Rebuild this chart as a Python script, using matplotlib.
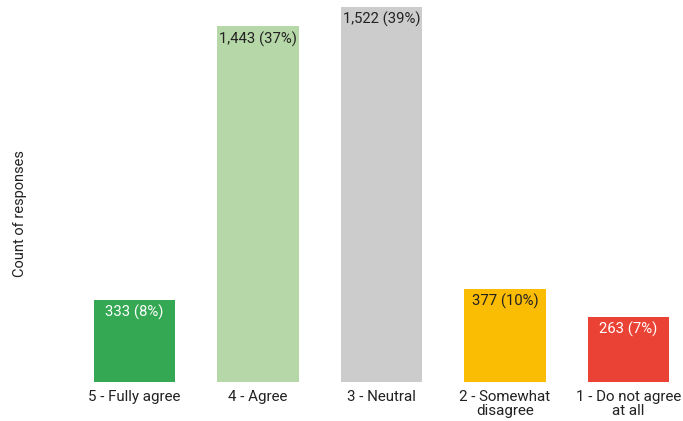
import matplotlib
matplotlib.use("Agg")
import matplotlib.pyplot as plt

categories = ["5 - Fully agree", "4 - Agree", "3 - Neutral", "2 - Somewhat\ndisagree", "1 - Do not agree\nat all"]
counts = [333, 1443, 1522, 377, 263]
labels = ["333 (8%)", "1,443 (37%)", "1,522 (39%)", "377 (10%)", "263 (7%)"]
colors = ["#34a853", "#b6d7a8", "#cccccc", "#fbbc04", "#ea4335"]
label_colors = ["white", "#222222", "#222222", "#222222", "white"]

plt.rcParams['font.family'] = ['Roboto', 'DejaVu Sans']

fig = plt.figure(figsize=(6.83, 4.21), dpi=100)
ax = fig.add_axes([0, 39/421, 1, 382/421])
x = list(range(len(categories)))
ax.bar(x, counts, width=0.656, color=colors)
ax.set_xlim(-134.5/123.5, (683-134.5)/123.5)
ax.set_ylim(0, 1550)
for xi, c, lab, lc in zip(x, counts, labels, label_colors):
    ax.annotate(lab, (xi, c), xytext=(0, -3.5), textcoords='offset points',
                ha='center', va='top', fontsize=10.7, color=lc)
ax.set_xticks(x)
ax.set_xticklabels(categories, fontsize=10.9, color="#222222", linespacing=0.95)
ax.tick_params(axis='x', length=0, pad=6)
ax.set_yticks([])
for s in ax.spines.values():
    s.set_visible(False)
fig.text(20/683, 1 - 214/421, "Count of responses", rotation=90, ha='center', va='center',
         fontsize=10.5, color="#222222")
fig.savefig("out.png", dpi=100)
